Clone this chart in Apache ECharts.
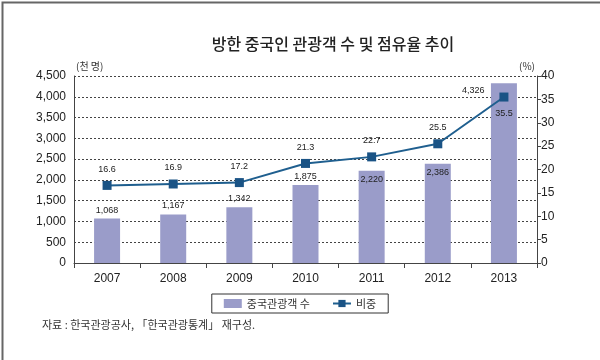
<!DOCTYPE html>
<html><head><meta charset="utf-8">
<script src="https://cdn.jsdelivr.net/npm/echarts@6/dist/echarts.min.js"></script>
<style>html,body{margin:0;padding:0;background:#fff}#c{width:600px;height:360px}</style>
</head><body><div id="c"></div>
<script>
const years = ['2007','2008','2009','2010','2011','2012','2013'];
const visitors = [1068, 1167, 1342, 1875, 2220, 2386, 4326];
const share = [16.6, 16.9, 17.2, 21.3, 22.7, 25.5, 35.5];
const barName = '중국관광객 수';
const lineName = '비중';
const titleText = '방한 중국인 관광객 수 및 점유율 추이';
const sourceText = '자료 : 한국관광공사, 「한국관광통계」 재구성.';

const FONT = '"Noto Sans CJK KR", "Noto Sans", sans-serif';
const barLabelPos = ['top','top','top','top','insideTop','insideTop',[-29,3]];
const lineLabelPos = ['top','top','top','top','top','top','bottom'];
const fmt = v => v.toLocaleString('en-US');

const chart = echarts.init(document.getElementById('c'), null, {renderer:'canvas'});
chart.setOption({
  animation:false,
  textStyle:{fontFamily:FONT},
  title:{text:titleText, left:328, top:31, textAlign:'center',
    textStyle:{fontSize:16, fontWeight:500, color:'#222', fontFamily:FONT}},
  grid:{left:74, right:63, top:76, bottom:97},
  legend:{bottom:47, left:'center', itemGap:22, padding:[4,12,4,12],
    borderColor:'#333', borderWidth:1,
    textStyle:{fontSize:11, color:'#333', fontFamily:FONT},
    itemWidth:18, itemHeight:9,
    data:[{name:barName, icon:'rect'}, {name:lineName}]},
  xAxis:{type:'category', data:years,
    axisLine:{lineStyle:{color:'#444'}},
    axisTick:{show:true, inside:false, length:5, lineStyle:{color:'#444'}},
    axisLabel:{fontSize:12, color:'#222', margin:10, fontFamily:'"Liberation Sans", sans-serif'}},
  yAxis:[
    {type:'value', min:0, max:4500, interval:500,
     name:'(천 명)', nameLocation:'end', nameGap:5,
     nameTextStyle:{fontSize:10, color:'#333', align:'left', padding:[0,0,0,2]},
     axisLine:{show:true, lineStyle:{color:'#444'}},
     axisTick:{show:false},
     axisLabel:{fontSize:12, color:'#222', formatter:v=>fmt(v), fontFamily:'"Liberation Sans", sans-serif'},
     splitLine:{show:true, lineStyle:{color:'#444', type:[2,2], width:1}}},
    {type:'value', min:0, max:40, interval:5, position:'right',
     name:'(%)', nameLocation:'end', nameGap:5,
     nameTextStyle:{fontSize:10, color:'#333', align:'right', padding:[0,2,0,0]},
     axisLine:{show:true, lineStyle:{color:'#444'}},
     axisTick:{show:true, length:4, lineStyle:{color:'#444'}},
     axisLabel:{fontSize:12, color:'#222', margin:4, fontFamily:'"Liberation Sans", sans-serif'},
     splitLine:{show:false}}
  ],
  series:[
    {name:barName, type:'bar', yAxisIndex:0, barWidth:26,
     itemStyle:{color:'#9a9cc9'},
     data:visitors.map((v,i)=>({value:v, label:{position:barLabelPos[i]}})),
     label:{show:true, fontSize:9, color:'#222', distance:4, formatter:p=>fmt(p.value),
       fontFamily:'"Liberation Sans", sans-serif'}},
    {name:lineName, type:'line', yAxisIndex:1, symbol:'rect', symbolSize:9,
     itemStyle:{color:'#1a5385'}, lineStyle:{color:'#1f5f8f', width:2},
     data:share.map((v,i)=>({value:v, label:{position:lineLabelPos[i]}})),
     label:{show:true, fontSize:9, color:'#222', distance:7, fontFamily:'"Liberation Sans", sans-serif'}}
  ],
  graphic:[
    {type:'rect', left:0, top:0, shape:{x:0,y:0,width:599,height:359},
     style:{fill:'none', stroke:'#666', lineWidth:2}, silent:true},
    {type:'text', left:42, top:319,
     style:{text:sourceText, fontSize:11, fill:'#333', fontFamily:FONT}}
  ]
});
</script></body></html>
